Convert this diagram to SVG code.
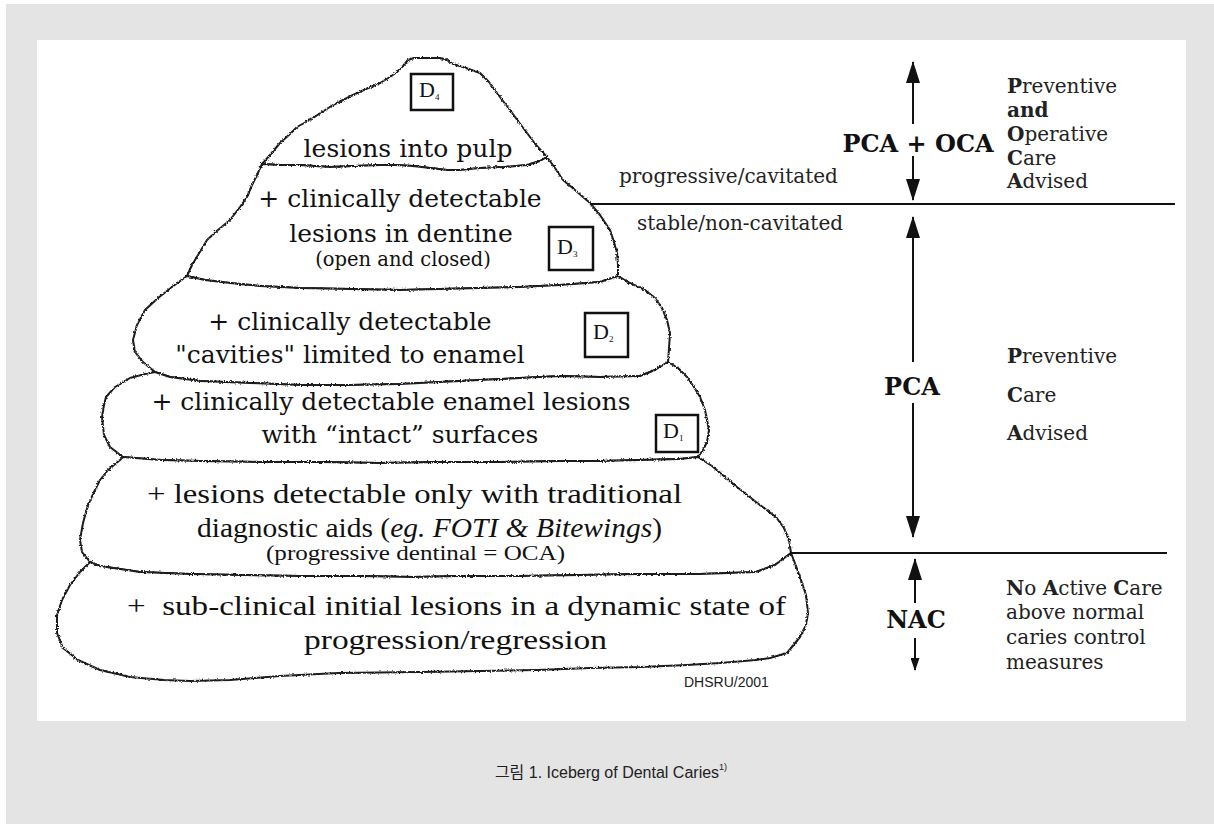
<svg xmlns="http://www.w3.org/2000/svg" width="1214" height="824" viewBox="0 0 1214 824">
<defs>
<style>
.ol{fill:#fff;stroke:#1a1a1a;stroke-width:2;stroke-linejoin:round;filter:url(#rough)}
.t25{font-family:"DejaVu Serif",serif;font-size:25px;fill:#111;text-anchor:middle}
.t19{font-family:"DejaVu Serif",serif;font-size:19.5px;fill:#111;text-anchor:middle}
.tr{font-family:"Liberation Serif",serif;font-size:28px;fill:#111}
.tr2{font-family:"Liberation Serif",serif;font-size:22px;fill:#111}
.lbl{font-family:"DejaVu Serif",serif;font-size:20px;fill:#222}
.b24{font-family:"DejaVu Serif",serif;font-size:24px;font-weight:bold;fill:#111;text-anchor:middle}
.box{fill:none;stroke:#111;stroke-width:2.5}
.dl{font-family:"Liberation Serif",serif;font-size:22px;fill:#111}
.sub{font-size:9px}
.ln{stroke:#111;stroke-width:2;fill:none}
.b{font-weight:bold}
</style>
<filter id="rough" x="-5%" y="-5%" width="110%" height="110%">
<feTurbulence type="fractalNoise" baseFrequency="0.6" numOctaves="2" seed="3" result="n"/>
<feDisplacementMap in="SourceGraphic" in2="n" scale="3" xChannelSelector="R" yChannelSelector="G"/>
</filter>
<marker id="ah" viewBox="0 0 22 14" markerWidth="22" markerHeight="14" refX="21" refY="7" orient="auto" markerUnits="userSpaceOnUse"><path d="M0,0 L22,7 L0,14 Z" fill="#111"/></marker>
<marker id="ahs" viewBox="0 0 13 9" markerWidth="13" markerHeight="9" refX="12" refY="4.5" orient="auto" markerUnits="userSpaceOnUse"><path d="M0,0 L13,4.5 L0,9 Z" fill="#111"/></marker>
</defs>
<rect x="0" y="0" width="1214" height="824" fill="#fff"/>
<rect x="6" y="4" width="1208" height="820" fill="#e4e4e4"/>
<rect x="37" y="40" width="1149" height="681" fill="#fff"/>

<g id="layer-d4">
<path class="ol" d="M262,164 L270,155 L280,143 L290,134 L297,127 L306,122 L313,118 L322,112 L333,105 L343,100 L353,95 L366,89 L380,83 L390,77 L397,72 L403,66 L408,60 L414,58 L440,58 L447,60 L453,64 L466,68 L480,73 L489,82 L497,93 L503,101 L510,110 L518,121 L527,133 L536,145 L547,157 L540,161 L527,165 L505,167 L480,168 L460,170 L447,170 L430,168 L413,166 L395,165 L380,165 L355,166 L330,167 L300,165 L280,165 Z"/>
<rect class="box" x="411" y="74" width="42" height="36"/>
<text class="dl" x="419" y="97">D<tspan class="sub" dy="3">4</tspan></text>
<text class="t25" x="408" y="157">lesions into pulp</text>
</g>

<g id="layer-d3">
<path class="ol" d="M262,164 L280,165 L300,165 L330,167 L355,166 L380,165 L395,165 L413,166 L430,168 L447,170 L460,170 L480,168 L505,167 L527,165 L540,161 L547,157 L555,168 L563,180 L575,190 L590,203 L600,215 L610,230 L614,242 L617,253 L618,265 L618,276 L600,282 L560,285 L520,287 L480,288 L440,289 L400,290 L350,289 L300,288 L260,286 L230,283 L205,280 L187,276 L192,265 L198,255 L207,240 L218,230 L230,220 L240,207 L247,197 L252,185 L257,175 Z"/>
<rect class="box" x="549" y="227" width="44" height="43"/>
<text class="dl" x="557" y="254">D<tspan class="sub" dy="3">3</tspan></text>
<text class="t25" x="400" y="207">+ clinically detectable</text>
<text class="t25" x="401" y="242">lesions in dentine</text>
<text class="t19" x="403" y="266">(open and closed)</text>
</g>

<g id="layer-d2">
<path class="ol" d="M187,276 L205,280 L230,283 L260,286 L300,288 L350,289 L400,290 L440,289 L480,288 L520,287 L560,285 L600,282 L618,276 L630,283 L645,290 L655,298 L662,308 L667,320 L670,333 L669,348 L668,362 L655,370 L640,376 L600,377 L560,376 L520,378 L480,380 L440,382 L400,384 L350,385 L300,385 L250,383 L200,381 L170,377 L155,372 L143,362 L135,352 L133,340 L137,325 L145,310 L158,298 L172,287 Z"/>
<rect class="box" x="585" y="313" width="43" height="44"/>
<text class="dl" x="593" y="339">D<tspan class="sub" dy="3">2</tspan></text>
<text class="t25" x="350" y="330">+ clinically detectable</text>
<text class="t25" x="350" y="363">"cavities" limited to enamel</text>
</g>

<g id="layer-d1">
<path class="ol" d="M155,372 L170,377 L200,381 L250,383 L300,385 L350,385 L400,384 L440,382 L480,380 L520,378 L560,376 L600,377 L640,376 L655,370 L668,362 L678,368 L687,377 L694,387 L700,397 L705,410 L709,430 L707,442 L703,450 L698,457 L680,459 L640,460 L600,461 L560,461 L500,462 L440,462 L380,463 L320,462 L260,462 L200,461 L160,460 L123,457 L110,447 L104,435 L102,417 L104,405 L106,397 L115,387 L130,378 L145,374 Z"/>
<rect class="box" x="656" y="415" width="42" height="37"/>
<text class="dl" x="663" y="438">D<tspan class="sub" dy="3">1</tspan></text>
<text class="t25" x="391" y="410">+ clinically detectable enamel lesions</text>
<text class="t25" x="400" y="443">with “intact” surfaces</text>
</g>

<g id="layer-aids">
<path class="ol" d="M123,457 L160,460 L200,461 L260,462 L320,462 L380,463 L440,462 L500,462 L560,461 L600,461 L640,460 L680,459 L698,457 L712,466 L725,477 L737,487 L756,502 L776,517 L784,528 L789,540 L791,553 L775,565 L756,572 L700,574 L640,574 L580,575 L520,576 L460,576 L413,577 L360,576 L300,576 L240,575 L190,574 L140,572 L100,566 L90,562 L82,552 L80,540 L83,523 L88,505 L95,490 L100,480 L108,470 L120,460 Z"/>
<text class="tr" x="147" y="503" textLength="535" lengthAdjust="spacingAndGlyphs">+ lesions detectable only with traditional</text>
<text class="tr" x="197" y="537" textLength="465" lengthAdjust="spacingAndGlyphs">diagnostic aids (<tspan font-style="italic">eg. FOTI &amp; Bitewings</tspan>)</text>
<text class="tr2" x="266" y="560" textLength="299" lengthAdjust="spacingAndGlyphs">(progressive dentinal = OCA)</text>
</g>

<g id="layer-subclinical">
<path class="ol" d="M90,562 L100,566 L140,572 L190,574 L240,575 L300,576 L360,576 L413,577 L460,576 L520,576 L580,575 L640,574 L700,574 L756,572 L775,565 L791,553 L796,566 L801,580 L806,595 L808,613 L806,625 L800,637 L787,653 L770,658 L756,660 L720,663 L687,665 L640,667 L590,668 L537,670 L480,671 L420,672 L338,673 L280,676 L230,680 L190,681 L164,680 L130,677 L100,670 L78,660 L63,648 L57,633 L57,615 L62,600 L70,585 L80,572 Z"/>
<text class="tr" x="127" y="615" textLength="659" lengthAdjust="spacingAndGlyphs">+&#160; sub-clinical initial lesions in a dynamic state of</text>
<text class="tr" x="304" y="649" textLength="303" lengthAdjust="spacingAndGlyphs">progression/regression</text>
</g>

<text id="credit" x="684" y="687" font-family="Liberation Sans, sans-serif" font-size="14" fill="#222">DHSRU/2001</text>

<g id="connectors">
<line class="ln" x1="590" y1="204" x2="1175" y2="204" stroke-width="2.5"/>
<line class="ln" x1="790" y1="553" x2="1167" y2="553" stroke-width="5.5"/>
<line class="ln" x1="913" y1="124" x2="913" y2="62" marker-end="url(#ah)"/>
<line class="ln" x1="913" y1="156" x2="913" y2="200" marker-end="url(#ah)"/>
<line class="ln" x1="913" y1="362" x2="913" y2="217" marker-end="url(#ah)"/>
<line class="ln" x1="913" y1="403" x2="913" y2="537" marker-end="url(#ah)"/>
<line class="ln" x1="915" y1="603" x2="915" y2="559" marker-end="url(#ah)"/>
<line class="ln" x1="915" y1="638" x2="915" y2="670" marker-end="url(#ahs)"/>
</g>

<g id="label-pca-oca">
<text class="b24" x="918" y="152">PCA + OCA</text>
<text class="lbl" x="619" y="183">progressive/cavitated</text>
<text class="lbl" x="637" y="230">stable/non-cavitated</text>
<text class="lbl" x="1007" y="93"><tspan class="b">P</tspan>reventive</text>
<text class="lbl b" x="1007" y="117">and</text>
<text class="lbl" x="1007" y="141"><tspan class="b">O</tspan>perative</text>
<text class="lbl" x="1007" y="165"><tspan class="b">C</tspan>are</text>
<text class="lbl" x="1007" y="188"><tspan class="b">A</tspan>dvised</text>
</g>

<g id="label-pca">
<text class="b24" x="912" y="395">PCA</text>
<text class="lbl" x="1007" y="363"><tspan class="b">P</tspan>reventive</text>
<text class="lbl" x="1007" y="402"><tspan class="b">C</tspan>are</text>
<text class="lbl" x="1007" y="440"><tspan class="b">A</tspan>dvised</text>
</g>

<g id="label-nac">
<text class="b24" x="916" y="628">NAC</text>
<text class="lbl" x="1006" y="595"><tspan class="b">N</tspan>o <tspan class="b">A</tspan>ctive <tspan class="b">C</tspan>are</text>
<text class="lbl" x="1006" y="619">above normal</text>
<text class="lbl" x="1006" y="644">caries control</text>
<text class="lbl" x="1006" y="669">measures</text>
</g>

<g id="caption">
<text x="611" y="778" text-anchor="middle" font-family="Liberation Sans, Noto Sans CJK KR, sans-serif" font-size="16" fill="#222">그림 1. Iceberg of Dental Caries<tspan font-size="9" dy="-8">1)</tspan></text>
</g>
</svg>
